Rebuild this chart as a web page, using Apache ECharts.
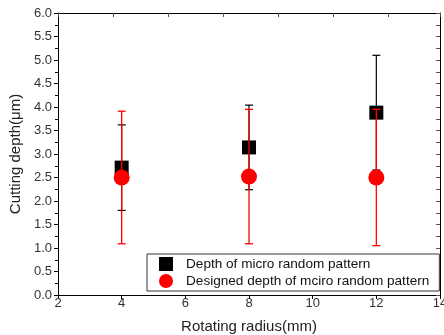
<!DOCTYPE html>
<html>
<head>
<meta charset="utf-8">
<script src="https://cdn.jsdelivr.net/npm/echarts@6/dist/echarts.min.js"></script>
<style>
  html, body { margin: 0; padding: 0; background: #fff; }
  #chart { width: 444px; height: 335px; }
</style>
</head>
<body>
<div id="chart"></div>
<script>
// 旋转半径 (mm)
const radius = [4, 8, 12];
// 实测深度及误差
const depth = [2.71, 3.14, 3.88];
const depthErr = [0.91, 0.90, 1.22];
// 设计深度及误差
const designed = [2.50, 2.52, 2.50];
const designedErr = [1.41, 1.43, 1.45];

const FONT = '"Liberation Sans", Arial, sans-serif';

// 误差棒
function errorBar(vals, errs, color, width, capHalf) {
  return {
    type: 'custom',
    xAxisIndex: 0,
    yAxisIndex: 0,
    silent: true,
    data: radius.map((x, i) => [x, vals[i] - errs[i], vals[i] + errs[i]]),
    renderItem: function (params, api) {
      const lo = api.coord([api.value(0), api.value(1)]);
      const hi = api.coord([api.value(0), api.value(2)]);
      const style = { stroke: color, lineWidth: width };
      return {
        type: 'group',
        children: [
          { type: 'line', shape: { x1: lo[0], y1: lo[1], x2: hi[0], y2: hi[1] }, style },
          { type: 'line', shape: { x1: hi[0] - capHalf, y1: hi[1], x2: hi[0] + capHalf, y2: hi[1] }, style },
          { type: 'line', shape: { x1: lo[0] - capHalf, y1: lo[1], x2: lo[0] + capHalf, y2: lo[1] }, style },
        ],
      };
    },
  };
}

const chart = echarts.init(document.getElementById('chart'));
const option = {
  animation: false,
  grid: { left: 58, right: 4, top: 13, bottom: 40, outerBoundsMode: 'none', containLabel: false },
  legend: {
    orient: 'vertical',
    left: 147,
    top: 254,
    padding: [3, 10, 3, 12],
    itemWidth: 14,
    itemHeight: 14,
    itemGap: 3,
    borderColor: '#333',
    borderWidth: 1,
    backgroundColor: '#fff',
    textStyle: { fontFamily: FONT, fontSize: 13.6, color: '#111', padding: [0, 0, 0, 8] },
    data: [
      { name: 'Depth of micro random pattern', icon: 'rect' },
      { name: 'Designed depth of mciro random pattern', icon: 'circle' },
    ],
  },
  xAxis: [
    {
      type: 'value',
      min: 2,
      max: 14,
      interval: 2,
      name: 'Rotating radius(mm)',
      nameLocation: 'middle',
      nameGap: 24,
      nameTextStyle: { fontFamily: FONT, fontSize: 15, color: '#222' },
      axisLine: { onZero: false, lineStyle: { color: '#000', width: 1 } },
      axisTick: { inside: false, length: 4, lineStyle: { color: '#000' } },
      axisLabel: { fontFamily: FONT, fontSize: 13, color: '#333', margin: 2, hideOverlap: false },
      splitLine: { show: false },
    },
    {
      // 顶部边框
      type: 'value',
      position: 'top',
      min: 0,
      max: 6.95,
      interval: 1,
      axisLine: { show: true, onZero: false, lineStyle: { color: '#000', width: 1 } },
      axisTick: { show: true, inside: true, length: 4, lineStyle: { color: '#555' } },
      axisLabel: { show: false },
      splitLine: { show: false },
    },
  ],
  yAxis: [
    {
      type: 'value',
      min: 0,
      max: 6,
      interval: 0.5,
      name: 'Cutting depth(\u03bcm)',
      nameLocation: 'middle',
      nameGap: 35,
      nameTextStyle: { fontFamily: FONT, fontSize: 15, color: '#222' },
      axisLine: { show: true, onZero: false, lineStyle: { color: '#000', width: 1 } },
      axisTick: { inside: false, length: 4, lineStyle: { color: '#000' } },
      minorTick: { show: true, splitNumber: 2, length: 3, lineStyle: { color: '#000' } },
      axisLabel: {
        fontFamily: FONT, fontSize: 13, color: '#333', margin: 6,
        formatter: v => v.toFixed(1),
      },
      splitLine: { show: false },
    },
    {
      // 右侧边框
      type: 'value',
      position: 'right',
      min: 0,
      max: 6,
      interval: 0.25,
      axisLine: { show: true, onZero: false, lineStyle: { color: '#000', width: 1 } },
      axisTick: { show: true, inside: true, length: 4, lineStyle: { color: '#555' } },
      axisLabel: { show: false },
      splitLine: { show: false },
    },
  ],
  series: [
    errorBar(depth, depthErr, '#000', 1.2, 4),
    {
      name: 'Depth of micro random pattern',
      type: 'scatter',
      symbol: 'rect',
      symbolSize: 14,
      itemStyle: { color: '#000', opacity: 1 },
      data: radius.map((x, i) => [x, depth[i]]),
      z: 3,
    },
    {
      name: 'Designed depth of mciro random pattern',
      type: 'scatter',
      symbol: 'circle',
      symbolSize: 16,
      itemStyle: { color: '#ff0000', opacity: 1 },
      data: radius.map((x, i) => [x, designed[i]]),
      z: 4,
    },
    Object.assign(errorBar(designed, designedErr, '#ff0000', 1.3, 4), { z: 5 }),
  ],
};
chart.setOption(option);
</script>
</body>
</html>
